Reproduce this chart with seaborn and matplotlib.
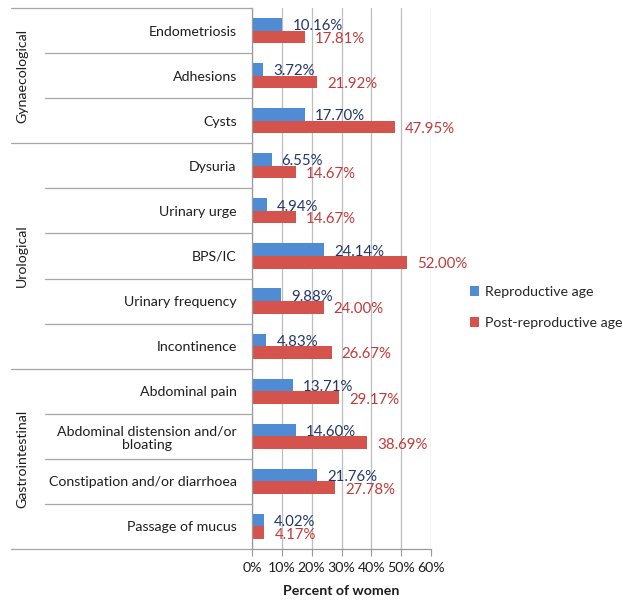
import matplotlib
matplotlib.use("Agg")
import matplotlib.pyplot as plt
import matplotlib.transforms as mtransforms
from matplotlib.patches import Patch
from matplotlib.lines import Line2D
import seaborn as sns
import pandas as pd

# Symptom categories, top to bottom
categories = [
    "Endometriosis", "Adhesions", "Cysts",
    "Dysuria", "Urinary urge", "BPS/IC", "Urinary frequency", "Incontinence",
    "Abdominal pain", "Abdominal distension and/or\nbloating",
    "Constipation and/or diarrhoea", "Passage of mucus",
]
reproductive = [10.16, 3.72, 17.70, 6.55, 4.94, 24.14, 9.88, 4.83, 13.71, 14.60, 21.76, 4.02]
post_reproductive = [17.81, 21.92, 47.95, 14.67, 14.67, 52.00, 24.00, 26.67, 29.17, 38.69, 27.78, 4.17]
series_names = ["Reproductive age", "Post-reproductive age"]

# Groups of rows: (label, first row, last row)
groups = [("Gynaecological", 0, 2), ("Urological", 3, 7), ("Gastrointestinal", 8, 11)]

x_ticks = [0, 10, 20, 30, 40, 50, 60]
x_tick_labels = ["0%", "10%", "20%", "30%", "40%", "50%", "60%"]

bar_colors = ["#4F8CD3", "#D5534D"]
label_colors = ["#22376B", "#C23A3A"]
text_color = "#1E1E1E"
fs = 10.2

df = pd.DataFrame({
    "category": categories * 2,
    "series": [series_names[0]] * len(categories) + [series_names[1]] * len(categories),
    "value": reproductive + post_reproductive,
})

sns.set_theme(style="white")
plt.rcParams["font.family"] = ["Lato", "DejaVu Sans"]

W, H = 623, 603
fig = plt.figure(figsize=(W / 100, H / 100), dpi=100)
ax = fig.add_axes([252 / W, 1 - 549 / H, (431 - 252) / W, (549 - 8) / H])

sns.barplot(data=df, x="value", y="category", hue="series", order=categories,
            hue_order=series_names, palette=bar_colors, orient="h", width=0.56,
            dodge=True, saturation=1, legend=False, ax=ax, edgecolor="none")

ax.set_xlim(0, 60)
ax.set_ylim(len(categories) - 0.5, -0.5)
ax.set_xticks(x_ticks)
ax.set_xticklabels(x_tick_labels, fontsize=fs, color=text_color)
ax.tick_params(axis="x", length=5, width=0.8, color="#999999", pad=4, direction="out")
ax.xaxis.set_ticks_position("bottom")
ax.set_axisbelow(True)
ax.grid(axis="x", color="#BDBDBD", linewidth=0.9)
ax.grid(axis="y", visible=False)

ax.set_yticks(range(len(categories)))
ax.set_yticklabels(categories, fontsize=fs, color=text_color)
ax.tick_params(axis="y", length=0, pad=11)
for t in ax.get_yticklabels():
    t.set_multialignment("center")

for side in ("top", "right"):
    ax.spines[side].set_visible(False)
for side in ("left", "bottom"):
    ax.spines[side].set_color("#999999")
    ax.spines[side].set_linewidth(0.9)

ax.set_xlabel("Percent of women", fontsize=fs, fontweight="bold", color=text_color, labelpad=8)
ax.set_ylabel("")

# Value labels beside each bar
for container, color in zip(ax.containers, label_colors):
    for bar in container:
        v = bar.get_width()
        y = bar.get_y() + bar.get_height() / 2
        ax.annotate(f"{v:.2f}%", xy=(v, y), xytext=(10, -2), textcoords="offset pixels",
                    ha="left", va="center", fontsize=10.8, color=color)

# Category table lines and group labels left of the axes
trans = mtransforms.blended_transform_factory(fig.transFigure, ax.transData)
group_edges = {-0.5} | {last + 0.5 for _, _, last in groups}
for i in range(len(categories) + 1):
    yb = i - 0.5
    x0 = 11 / W if yb in group_edges else 45 / W
    fig.add_artist(Line2D([x0, 252 / W], [yb, yb], transform=trans,
                          color="#A6A6A6", linewidth=0.9))
for name, first, last in groups:
    fig.text(22 / W, (first + last) / 2, name, transform=trans,
             rotation=90, ha="center", va="center", fontsize=fs, color=text_color)

handles = [Patch(facecolor=c, edgecolor="none") for c in bar_colors]
fig.legend(handles, series_names, loc="center left",
           bbox_to_anchor=(470 / W, 1 - 307.5 / H), frameon=False, fontsize=fs,
           handlelength=0.65, handleheight=0.65, handletextpad=0.4, labelspacing=1.35,
           borderaxespad=0, borderpad=0)

fig.savefig("out.png", dpi=100)
